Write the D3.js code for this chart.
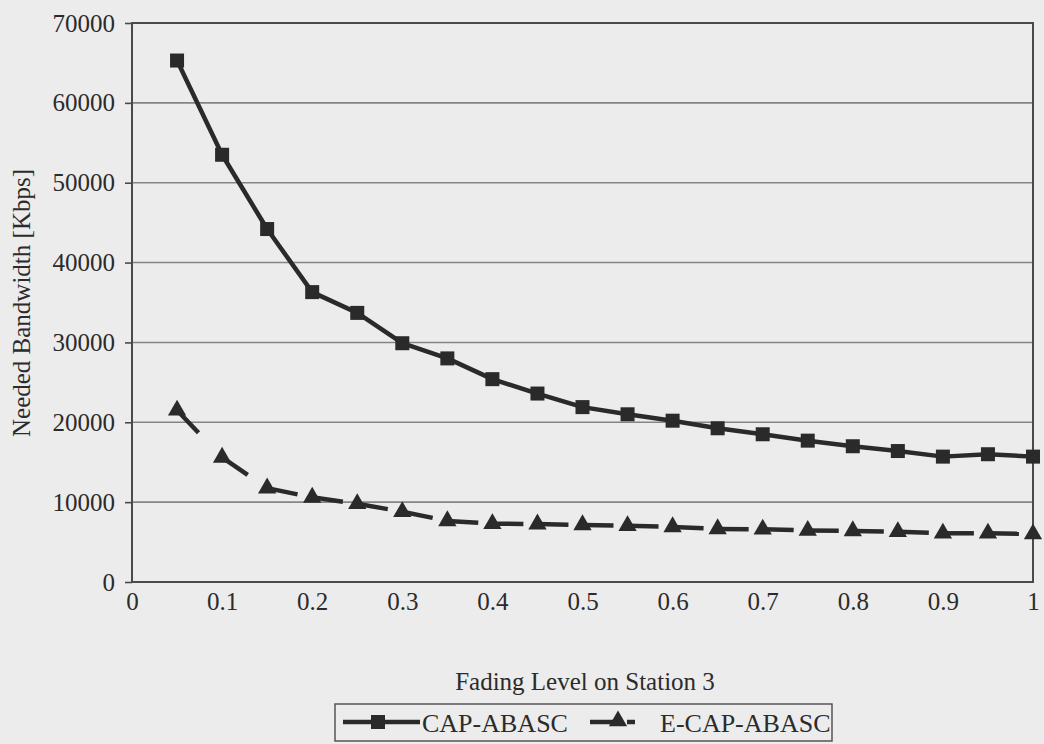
<!DOCTYPE html>
<html>
<head>
<meta charset="utf-8">
<script src="https://cdn.jsdelivr.net/npm/d3@7"></script>
<style>
  body { margin: 0; background: #ececec; }
  svg { display: block; font-family: "Liberation Serif", "Times New Roman", serif; }
</style>
</head>
<body>
<script>
// fading levels on station 3
var fading = [0.05, 0.1, 0.15, 0.2, 0.25, 0.3, 0.35, 0.4, 0.45, 0.5,
              0.55, 0.6, 0.65, 0.7, 0.75, 0.8, 0.85, 0.9, 0.95, 1.0];
// needed bandwidth [Kbps]
var capAbasc = [65300, 53500, 44200, 36300, 33700, 29900, 28000, 25400, 23600, 21900,
                21000, 20200, 19250, 18500, 17700, 17000, 16400, 15700, 16000, 15700];
var eCapAbasc = [21500, 15600, 11750, 10600, 9800, 8800, 7650, 7300, 7250, 7150,
                 7050, 6900, 6650, 6600, 6450, 6400, 6300, 6100, 6100, 6000];
var xTicks = [0, 0.1, 0.2, 0.3, 0.4, 0.5, 0.6, 0.7, 0.8, 0.9, 1];
var yTicks = [0, 10000, 20000, 30000, 40000, 50000, 60000, 70000];
var seriesNames = ['CAP-ABASC', 'E-CAP-ABASC'];

var width = 1044,
	height = 744,
	margin = {top: 23, right: 11, bottom: 162, left: 132};

var ink = '#2a2a2a';

var svg = d3.select('body').append('svg')
	.attr('width', width)
	.attr('height', height);

var w = width - margin.left - margin.right,
	h = height - margin.top - margin.bottom;

var xScale = d3.scaleLinear().domain([0, 1]).range([0, w]),
	yScale = d3.scaleLinear().domain([0, 70000]).range([h, 0]);

var g = svg.append('g')
	.attr('transform', 'translate(' + margin.left + ',' + margin.top + ')');

// horizontal gridlines
g.selectAll('.grid')
	.data(yTicks.slice(1))
	.enter().append('line')
	.attr('class', 'grid')
	.attr('x1', 0)
	.attr('x2', w)
	.attr('y1', function(d) { return yScale(d); })
	.attr('y2', function(d) { return yScale(d); })
	.attr('stroke', '#858585')
	.attr('stroke-width', 1.6);

// plot frame
g.append('rect')
	.attr('width', w)
	.attr('height', h)
	.attr('fill', 'none')
	.attr('stroke', '#4a4a4a')
	.attr('stroke-width', 2);

// y axis
var yAxis = g.append('g')
	.call(d3.axisLeft(yScale).tickValues(yTicks).tickSize(7).tickPadding(10).tickFormat(d3.format('d')));
yAxis.select('.domain').remove();
yAxis.selectAll('line').attr('stroke', '#4a4a4a').attr('stroke-width', 1.6);
yAxis.selectAll('text')
	.attr('fill', '#2b2b2b')
	.style('font-size', '25px')
	.style('font-family', '"Liberation Serif", serif');

// x axis
var xAxis = g.append('g')
	.attr('transform', 'translate(0,' + h + ')')
	.call(d3.axisBottom(xScale).tickValues(xTicks).tickSize(0).tickPadding(10).tickFormat(d3.format('~g')));
xAxis.select('.domain').remove();
xAxis.selectAll('text')
	.attr('fill', '#2b2b2b')
	.style('font-size', '25px')
	.style('font-family', '"Liberation Serif", serif');

// axis titles
svg.append('text')
	.attr('x', 585)
	.attr('y', 690)
	.attr('text-anchor', 'middle')
	.attr('fill', '#2b2b2b')
	.style('font-size', '25px')
	.text('Fading Level on Station 3');

svg.append('text')
	.attr('transform', 'translate(30,303) rotate(-90)')
	.attr('text-anchor', 'middle')
	.attr('fill', '#2b2b2b')
	.style('font-size', '25px')
	.text('Needed Bandwidth [Kbps]');

// CAP-ABASC: solid line with squares
var line = d3.line()
	.x(function(d, i) { return xScale(fading[i]); })
	.y(function(d) { return yScale(d); });

g.append('path')
	.datum(capAbasc)
	.attr('d', line)
	.attr('fill', 'none')
	.attr('stroke', ink)
	.attr('stroke-width', 4.5)
	.attr('stroke-linejoin', 'round');

g.selectAll('.sq')
	.data(capAbasc)
	.enter().append('rect')
	.attr('class', 'sq')
	.attr('x', function(d, i) { return xScale(fading[i]) - 7; })
	.attr('y', function(d) { return yScale(d) - 7; })
	.attr('width', 14)
	.attr('height', 14)
	.attr('fill', ink);

// E-CAP-ABASC: one long dash per segment, starting at each point
var segs = d3.pairs(eCapAbasc.map(function(d, i) { return [fading[i], d]; }));
var segLine = d3.line()
	.x(function(d) { return xScale(d[0]); })
	.y(function(d) { return yScale(d[1]); });

g.selectAll('.seg')
	.data(segs)
	.enter().append('path')
	.attr('class', 'seg')
	.attr('d', segLine)
	.attr('fill', 'none')
	.attr('stroke', ink)
	.attr('stroke-width', 4.5)
	.attr('stroke-dasharray', '31,400');

var tri = d3.symbol().type(d3.symbolTriangle).size(145);
g.selectAll('.tri')
	.data(eCapAbasc)
	.enter().append('path')
	.attr('class', 'tri')
	.attr('d', tri)
	.attr('transform', function(d, i) {
		return 'translate(' + xScale(fading[i]) + ',' + yScale(d) + ')';
	})
	.attr('fill', ink);

// legend
var leg = svg.append('g');
leg.append('rect')
	.attr('x', 335)
	.attr('y', 704)
	.attr('width', 497)
	.attr('height', 37)
	.attr('fill', 'none')
	.attr('stroke', '#555')
	.attr('stroke-width', 1.5);

leg.append('line')
	.attr('x1', 343).attr('x2', 420)
	.attr('y1', 722).attr('y2', 722)
	.attr('stroke', ink).attr('stroke-width', 4.5);
leg.append('rect')
	.attr('x', 371).attr('y', 715)
	.attr('width', 14).attr('height', 14)
	.attr('fill', ink);
leg.append('text')
	.attr('x', 422).attr('y', 732)
	.attr('fill', '#2b2b2b')
	.style('font-size', '26px')
	.text(seriesNames[0]);

leg.append('line')
	.attr('x1', 590).attr('x2', 614)
	.attr('y1', 722).attr('y2', 722)
	.attr('stroke', ink).attr('stroke-width', 4.5);
leg.append('line')
	.attr('x1', 627).attr('x2', 635)
	.attr('y1', 722).attr('y2', 722)
	.attr('stroke', ink).attr('stroke-width', 4.5);
leg.append('path')
	.attr('d', tri)
	.attr('transform', 'translate(618,721)')
	.attr('fill', ink);
leg.append('text')
	.attr('x', 660).attr('y', 732)
	.attr('fill', '#2b2b2b')
	.style('font-size', '26px')
	.text(seriesNames[1]);
</script>
</body>
</html>
